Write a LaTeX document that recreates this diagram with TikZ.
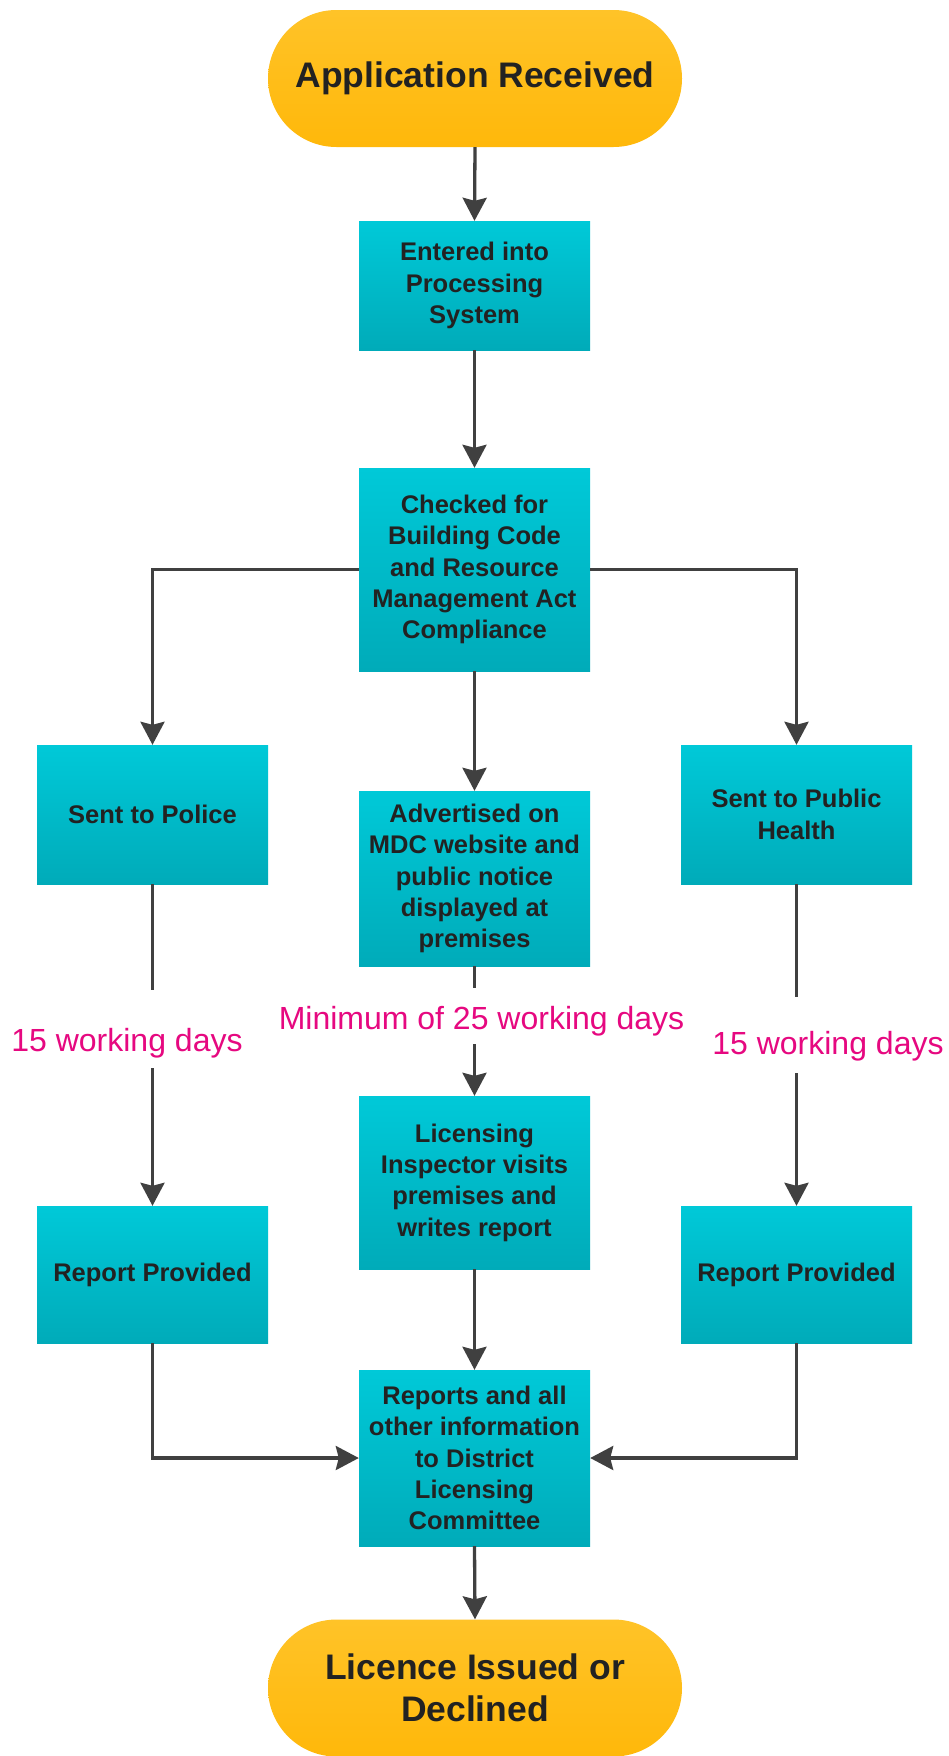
\documentclass[tikz,border=0pt]{standalone}
\usepackage{fontspec}
\setmainfont{Liberation Sans}
\usetikzlibrary{arrows.meta}
\definecolor{boxtop}{RGB}{0,201,216}
\definecolor{boxbot}{RGB}{0,171,185}
\definecolor{termtop}{RGB}{255,195,40}
\definecolor{termbot}{RGB}{255,184,10}
\definecolor{linegray}{RGB}{64,64,64}
\definecolor{txt}{RGB}{34,34,34}
\definecolor{mag}{RGB}{230,8,128}
\tikzset{
  procbox/.style={rectangle, minimum width=231pt, inner sep=0pt, top color=boxtop, bottom color=boxbot, draw=none,
    text=txt, font=\bfseries\fontsize{25.5}{31.4}\selectfont, align=center},
  termbox/.style={rectangle, rounded corners=68.5pt, minimum width=414pt, minimum height=137pt, inner sep=0pt,
    top color=termtop, bottom color=termbot, draw=none, text=txt, font=\bfseries\fontsize{35.5}{42}\selectfont, align=center},
  lbl/.style={text=mag, font=\fontsize{32}{38}\selectfont, inner sep=0pt},
  conn/.style={draw=linegray, line width=3.3pt},
  arr/.style={conn, -{Stealth[length=23pt, width=24pt, inset=3pt]}}
}
\begin{document}
\begin{tikzpicture}[x=1pt, y=-1pt]
\clip (0,0) rectangle (949,1756);
\fill[white] (0,0) rectangle (949,1756);
% nodes
\node[termbox] (start) at (475,78.5) {Application Received};
\node[procbox, minimum height=129pt] (enter) at (474.5,285.5) {Entered into\\Processing\\System};
\node[procbox, minimum height=203pt] (check) at (474.5,569.5) {Checked for\\Building Code\\and Resource\\Management Act\\Compliance};
\node[procbox, minimum height=139pt] (police) at (152.5,814.5) {Sent to Police};
\node[procbox, minimum height=139pt] (health) at (796.5,814.5) {Sent to Public\\Health};
\node[procbox, minimum height=175pt] (advert) at (474.5,878.5) {Advertised on\\MDC website and\\public notice\\displayed at\\premises};
\node[procbox, minimum height=173pt] (inspect) at (474.5,1182.5) {Licensing\\Inspector visits\\premises and\\writes report};
\node[procbox, minimum height=137pt] (repl) at (152.5,1274.5) {Report Provided};
\node[procbox, minimum height=137pt] (repr) at (796.5,1274.5) {Report Provided};
\node[procbox, minimum height=176pt] (dlc) at (474.5,1458) {Reports and all\\other information\\to District\\Licensing\\Committee};
\node[termbox] (finish) at (475,1688) {Licence Issued or\\Declined};
% labels
\node[lbl] (lblL) at (127,1043) {15 working days};
\node[lbl] (lblC) at (481.5,1021) {Minimum of 25 working days};
\node[lbl] (lblR) at (828,1046) {15 working days};
% gap coordinates
\coordinate (pA) at (152.5,990);
\coordinate (pB) at (152.5,1068);
\coordinate (cA) at (474.5,988);
\coordinate (cB) at (474.5,1044);
\coordinate (hA) at (796.5,997);
\coordinate (hB) at (796.5,1073);
% connectors
\draw[arr] (start.south) -- (enter.north);
\draw[arr] (enter.south) -- (check.north);
\draw[arr] (check.west) -| (police.north);
\draw[arr] (check.east) -| (health.north);
\draw[arr] (check.south) -- (advert.north);
\draw[conn] (police.south) -- (pA);
\draw[arr] (pB) -- (repl.north);
\draw[conn] (advert.south) -- (cA);
\draw[arr] (cB) -- (inspect.north);
\draw[conn] (health.south) -- (hA);
\draw[arr] (hB) -- (repr.north);
\draw[arr] (inspect.south) -- (dlc.north);
\draw[arr] (repl.south) |- (dlc.west);
\draw[arr] (repr.south) |- (dlc.east);
\draw[arr] (dlc.south) -- (finish.north);
\end{tikzpicture}
\end{document}
